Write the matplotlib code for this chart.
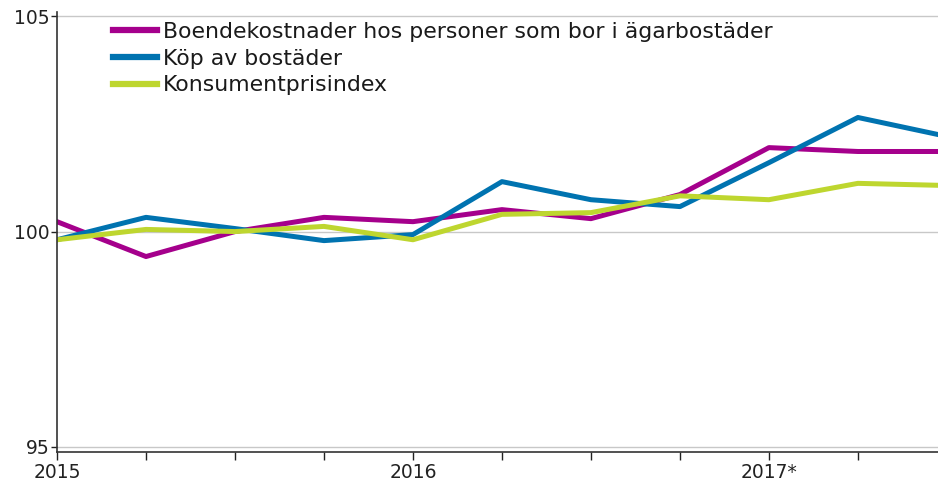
import numpy as np
import matplotlib.pyplot as plt

plt.rcParams['font.family'] = ['DejaVu Sans']

# quarters 2015Q1 .. 2017Q3
quarters = np.arange(11)
boende = [100.23, 99.42, 100.0, 100.33, 100.23, 100.51, 100.30, 100.86, 101.95, 101.86, 101.86]
kop = [99.81, 100.33, 100.07, 99.79, 99.93, 101.16, 100.74, 100.58, 101.60, 102.65, 102.21]
kpi = [99.81, 100.05, 100.0, 100.12, 99.81, 100.40, 100.44, 100.83, 100.74, 101.12, 101.07]

series = [
    ("Boendekostnader hos personer som bor i ägarbostäder", boende, "#a5008c"),
    ("Köp av bostäder", kop, "#0073b0"),
    ("Konsumentprisindex", kpi, "#bed62f"),
]

year_pos = [0, 4, 8]
year_labels = ["2015", "2016", "2017*"]

fig = plt.figure(figsize=(9.38, 4.83), dpi=100)
ax = fig.add_axes([57 / 938, 31 / 483, 1 - 57 / 938, (452 - 12) / 483])

for label, vals, col in series:
    ax.plot(quarters, vals, color=col, lw=3.6, label=label)

ax.set_xlim(0, 9.9)
ax.set_ylim(94.88, 105.1)
ax.set_yticks([95, 100, 105])
ax.set_xticks(quarters[:10])
ax.set_xticklabels([year_labels[year_pos.index(i)] if i in year_pos else "" for i in range(10)])
ax.grid(axis="y", color="#c8c8c8", lw=1)
ax.set_axisbelow(True)

for s in ["top", "right"]:
    ax.spines[s].set_visible(False)
for s in ["left", "bottom"]:
    ax.spines[s].set_color("#333333")
    ax.spines[s].set_linewidth(1.2)

ax.tick_params(axis="both", labelsize=13.5, colors="#222222", length=4, width=1)
ax.tick_params(axis="x", length=6, pad=2)
ax.tick_params(axis="y", pad=1)

leg = ax.legend(loc="upper left", bbox_to_anchor=(0.046, 1.012), frameon=True,
                fontsize=15.8, handlelength=2.0, handletextpad=0.3, labelspacing=0.3,
                borderpad=0.2, fancybox=False, labelcolor="#1a1a1a")
leg.get_frame().set_edgecolor("none")
leg.get_frame().set_facecolor("white")
leg.get_frame().set_alpha(1)
for h in leg.get_lines():
    h.set_linewidth(4.5)

fig.savefig("out.png", dpi=100)
